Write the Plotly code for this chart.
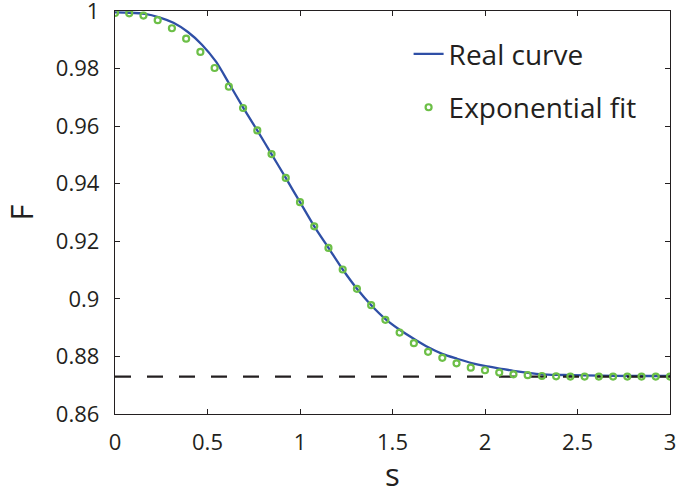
import numpy as np
import plotly.graph_objects as go

# Real curve
real_s = [0.0, 0.08, 0.162, 0.239, 0.316, 0.394, 0.470, 0.547, 0.615, 0.692, 0.769,
          0.846, 0.923, 1.0, 1.077, 1.154, 1.231, 1.308, 1.385, 1.462, 1.541, 1.619,
          1.696, 1.772, 1.849, 1.927, 2.004, 2.080, 2.153, 2.233, 2.310, 2.388, 2.465,
          2.616, 2.8, 3.0]
real_F = [0.9995, 0.9994, 0.9990, 0.9978, 0.9959, 0.9927, 0.9883, 0.9823, 0.9750, 0.9665, 0.9585,
          0.9503, 0.9420, 0.9336, 0.9252, 0.9177, 0.9102, 0.9035, 0.8978, 0.8930, 0.8892, 0.8860,
          0.8831, 0.8808, 0.8792, 0.8777, 0.8766, 0.8758, 0.8750, 0.8743, 0.8738, 0.8736, 0.8735,
          0.8733, 0.8732, 0.8732]

# Exponential fit markers (40 points from 0 to 3)
fit_s = np.linspace(0, 3, 40)
fit_F = [0.9993, 0.9992, 0.9984, 0.9968, 0.9940, 0.9904, 0.9858, 0.9802, 0.9737, 0.9663,
         0.9585, 0.9503, 0.9420, 0.9336, 0.9252, 0.9177, 0.9102, 0.9035, 0.8978, 0.8927,
         0.8883, 0.8846, 0.8816, 0.8795, 0.8776, 0.8761, 0.8752, 0.8744, 0.8738, 0.8735,
         0.8732, 0.8731, 0.8730, 0.8730, 0.8730, 0.8730, 0.8730, 0.8730, 0.8730, 0.8730]

asymptote = 0.873
x_range = [0, 3]

x_ticks = [0, 0.5, 1, 1.5, 2, 2.5, 3]
x_tick_labels = ["0", "0.5", "1", "1.5", "2", "2.5", "3"]
y_ticks = [0.86, 0.88, 0.90, 0.92, 0.94, 0.96, 0.98, 1.0]
y_tick_labels = ["0.86", "0.88", "0.9", "0.92", "0.94", "0.96", "0.98", "1"]

ink = "#231f20"
font = "Open Sans"

fig = go.Figure()
fig.add_trace(go.Scatter(x=real_s, y=real_F, mode="lines", name="Real curve",
                         line=dict(color="#2f4fa6", width=2.3, shape="spline", smoothing=0.6),
                         legendgroup="a"))
fig.add_trace(go.Scatter(x=x_range, y=[asymptote, asymptote], mode="lines", showlegend=False,
                         line=dict(color=ink, width=2.2, dash="16px,16px")))
fig.add_trace(go.Scatter(x=fit_s, y=fit_F, mode="markers", name="Exponential fit",
                         marker=dict(symbol="circle-open", size=6, color="#6cbf47",
                                     line=dict(width=2.2, color="#6cbf47")),
                         legendgroup="b"))

axis_common = dict(showline=True, linecolor=ink, linewidth=1.4, mirror="ticks",
                   ticks="inside", ticklen=5, tickwidth=1.2, tickcolor=ink,
                   showgrid=False, zeroline=False, ticklabeloverflow="allow",
                   automargin=False,
                   tickfont=dict(family=font, size=22, color=ink))

fig.update_layout(
    width=676, height=495,
    margin=dict(l=115, r=6, t=11, b=81, autoexpand=False),
    paper_bgcolor="white", plot_bgcolor="white",
    xaxis=dict(range=[0, 3], tickmode="array", tickvals=x_ticks, ticktext=x_tick_labels,
               ticklabelstandoff=8,
               title=dict(text="s", font=dict(family=font, size=31, color=ink), standoff=8),
               **axis_common),
    yaxis=dict(range=[0.86, 1.0], tickmode="array", tickvals=y_ticks, ticktext=y_tick_labels,
               ticklabelstandoff=10,
               title=dict(text="F", font=dict(family=font, size=31, color=ink), standoff=16),
               **axis_common),
    legend=dict(x=0.529, y=0.955, xanchor="left", yanchor="top",
                bgcolor="rgba(0,0,0,0)", font=dict(family=font, size=28, color=ink),
                tracegroupgap=14, itemwidth=30),
    showlegend=True,
)

fig.write_html("out.html")
